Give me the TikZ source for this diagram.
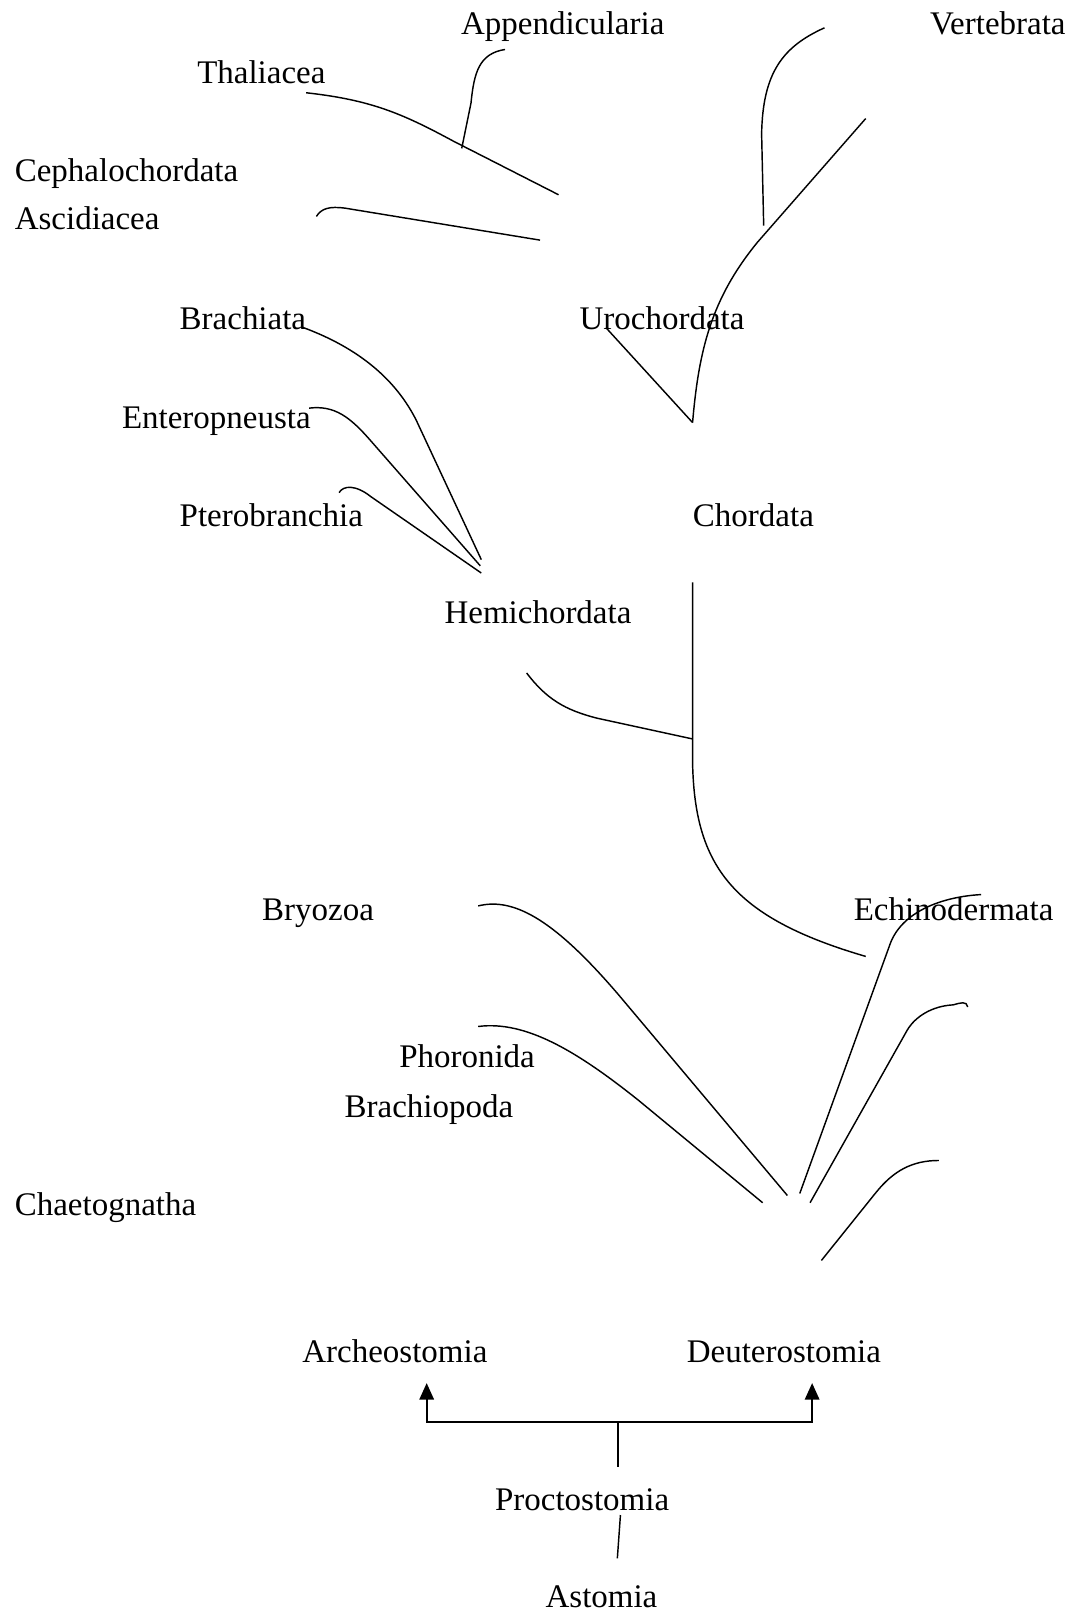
\documentclass[tikz,border=0pt]{standalone}
\usepackage{fontspec}
\setmainfont{Liberation Serif}
\usetikzlibrary{arrows.meta}

\begin{document}
\begin{tikzpicture}[
    x=0.5pt, y=-0.5pt,
    taxon/.style={anchor=base west, inner sep=0pt, font=\fontsize{16}{19}\selectfont}, % labels of the groups
    branch/.style={line width=0.7pt},
    stemline/.style={line width=0.9pt},
    up/.style={stemline, -{Triangle[width=7pt,length=8pt]}}
    ]
\useasboundingbox (0,0) rectangle (1050,1568);

\node[taxon] (appen) at (447,33) {Appendicularia};
\node[taxon] (verte) at (902,33) {Vertebrata};
\node[taxon] (thali) at (191,81) {Thaliacea};
\node[taxon] (cepha) at (14,176) {Cephalochordata};
\node[taxon] (ascid) at (14,223) {Ascidiacea};
\node[taxon] (brachiata) at (174,320) {Brachiata};
\node[taxon] (uroch) at (562,320) {Urochordata};
\node[taxon] (enter) at (118,416) {Enteropneusta};
\node[taxon] (ptero) at (174,511) {Pterobranchia};
\node[taxon] (chord) at (672,511) {Chordata};
\node[taxon] (hemi) at (431,605) {Hemichordata};
\node[taxon] (bryo) at (254,893) {Bryozoa};
\node[taxon] (echin) at (828,893) {Echinodermata};
\node[taxon] (phoro) at (387,1036) {Phoronida};
\node[taxon] (brachiop) at (334,1084) {Brachiopoda};
\node[taxon] (chaet) at (14,1179) {Chaetognatha};
\node[taxon] (archeo) at (293,1322) {Archeostomia};
\node[taxon] (deutero) at (666,1322) {Deuterostomia};
\node[taxon] (procto) at (480,1466) {Proctostomia};
\node[taxon] (astom) at (529,1560) {Astomia};

% upper branches
\draw[branch] (490,48) .. controls (465,52) and (460,70) .. (457,100) -- (448,144);
\draw[branch] (297,90) .. controls (360,97) and (390,110) .. (440,137) -- (542,189);
\draw[branch] (307,210) .. controls (312,202) and (320,200) .. (335,202) -- (524,233);
\draw[branch] (800,27) .. controls (760,45) and (740,70) .. (739,130) -- (741,219);
\draw[branch] (840,115) -- (735,235) .. controls (690,290) and (678,340) .. (672,410);
\draw[branch] (588,318) -- (672,410);

\draw[branch] (292,317) .. controls (350,338) and (385,370) .. (404,408) -- (467,543);
\draw[branch] (300,396) .. controls (325,393) and (340,405) .. (360,428) -- (466,549);
\draw[branch] (329,478) .. controls (333,471) and (345,470) .. (360,482) -- (467,556);

\draw[branch] (672,565) -- (672,740) .. controls (674,840) and (710,890) .. (840,928);
\draw[branch] (511,653) .. controls (530,678) and (548,689) .. (580,697) -- (672,717);

% lower branches
\draw[branch] (464,879) .. controls (500,870) and (540,895) .. (600,965) -- (764,1160);
\draw[branch] (464,996) .. controls (510,990) and (560,1020) .. (620,1068) -- (740,1167);
\draw[branch] (952,868) .. controls (915,870) and (876,884) .. (864,915) -- (776,1158);
\draw[branch] (939,977) .. controls (938,971) and (932,973) .. (925,975)
    .. controls (905,976) and (888,986) .. (880,1000) -- (786,1167);
\draw[branch] (911,1126) .. controls (885,1126) and (867,1136) .. (850,1157) -- (797,1223);

% bottom tree
\coordinate (fork) at (600,1380);
\coordinate (tipA) at (414,1342);
\coordinate (tipD) at (788,1342);
\coordinate (stem) at (600,1423);
\coordinate (p1) at (602,1470);
\coordinate (p2) at (599,1512);
\draw[up] (fork) -| (tipA);
\draw[up] (fork) -| (tipD);
\draw[stemline] (fork) -- (stem);
\draw[branch] (p1) -- (p2);
\end{tikzpicture}
\end{document}
